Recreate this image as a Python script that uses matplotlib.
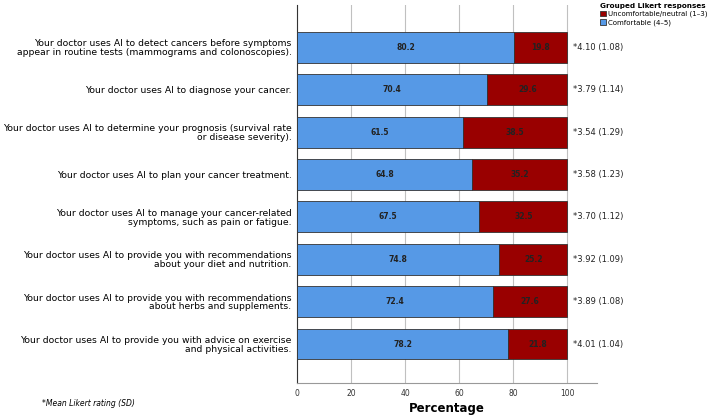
import matplotlib.pyplot as plt
import numpy as np

items = [
    "Your doctor uses AI to detect cancers before symptoms\nappear in routine tests (mammograms and colonoscopies).",
    "Your doctor uses AI to diagnose your cancer.",
    "Your doctor uses AI to determine your prognosis (survival rate\nor disease severity).",
    "Your doctor uses AI to plan your cancer treatment.",
    "Your doctor uses AI to manage your cancer-related\nsymptoms, such as pain or fatigue.",
    "Your doctor uses AI to provide you with recommendations\nabout your diet and nutrition.",
    "Your doctor uses AI to provide you with recommendations\nabout herbs and supplements.",
    "Your doctor uses AI to provide you with advice on exercise\nand physical activities.",
]
comfortable = [80.2, 70.4, 61.5, 64.8, 67.5, 74.8, 72.4, 78.2]
uncomfortable = [19.8, 29.6, 38.5, 35.2, 32.5, 25.2, 27.6, 21.8]
mean_sd = ["*4.10 (1.08)", "*3.79 (1.14)", "*3.54 (1.29)", "*3.58 (1.23)",
           "*3.70 (1.12)", "*3.92 (1.09)", "*3.89 (1.08)", "*4.01 (1.04)"]

blue = '#5699E6'
red = '#990000'

fig = plt.figure(figsize=(7.09, 4.17), dpi=100)
ax = fig.add_axes([297/709, 1-383/417, 300/709, 378/417])

y = np.arange(len(items))
ax.barh(y, comfortable, height=0.73, color=blue, edgecolor='#333333', linewidth=0.6,
        label='Comfortable (4–5)', zorder=3)
ax.barh(y, uncomfortable, left=comfortable, height=0.73, color=red, edgecolor='#333333',
        linewidth=0.6, label='Uncomfortable/neutral (1–3)', zorder=3)

# values inside the segments + mean (SD) on the right
for i in range(len(items)):
    ax.text(comfortable[i]/2, i, f"{comfortable[i]:.1f}", ha='center', va='center',
            fontsize=5.5, fontweight='bold', color='#222222', zorder=4)
    ax.text(comfortable[i] + uncomfortable[i]/2, i, f"{uncomfortable[i]:.1f}", ha='center',
            va='center', fontsize=5.5, fontweight='bold', color='#222222', zorder=4)
    ax.text(102, i, mean_sd[i], ha='left', va='center', fontsize=6, color='#222222')

ax.set_xlim(0, 111)
ax.set_ylim(7.92, -1.0)
ax.set_yticks(y)
ax.set_yticklabels(items, fontsize=6.7, ha='right', multialignment='right', linespacing=0.95)
ax.set_xticks([0, 20, 40, 60, 80, 100])
ax.tick_params(axis='x', labelsize=5.5, length=0, pad=4, colors='#333333')
ax.tick_params(axis='y', length=0, pad=4)

ax.grid(axis='x', color='#c0c0c0', linewidth=0.8, zorder=0)
ax.spines['top'].set_visible(False)
ax.spines['right'].set_visible(False)
ax.spines['left'].set_color('#333333')
ax.spines['bottom'].set_color('#999999')
ax.spines['left'].set_linewidth(0.8)
ax.spines['bottom'].set_linewidth(0.8)
ax.set_axisbelow(True)

ax.set_xlabel('Percentage', fontsize=8.5, fontweight='bold', labelpad=3)

handles, labels = ax.get_legend_handles_labels()
leg = fig.legend(handles[::-1], labels[::-1], loc='upper left', bbox_to_anchor=(599/709, 0.995),
                 frameon=False, fontsize=5, title='Grouped Likert responses',
                 title_fontsize=5.2, handlelength=0.9, handleheight=0.9, handletextpad=0.3,
                 labelspacing=0.25, borderaxespad=0, borderpad=0.1, alignment='left')
leg.get_title().set_fontweight('bold')

fig.text(42/709, 1-403/417, '*Mean Likert rating (SD)', fontsize=5.5, style='italic',
         va='center', ha='left')

fig.savefig('out.png', dpi=100)
